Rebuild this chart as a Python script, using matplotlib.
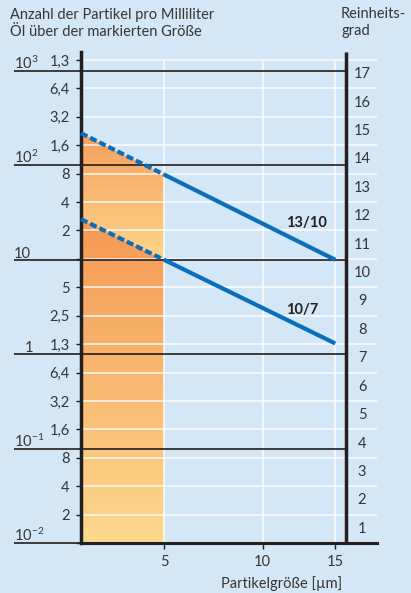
import numpy as np
import matplotlib
matplotlib.use("Agg")
import matplotlib.pyplot as plt
from matplotlib import transforms
from matplotlib.patches import Polygon

# Particle sizes (µm) at which the cleanliness codes are stated
sizes = [5, 15]
# Particles per millilitre larger than the given size
code_13_10 = [80, 10]
code_10_7 = [10, 1.3]
series_labels = ["13/10", "10/7"]

# Cleanliness scale: each code doubles the particle count of the previous one
code_numbers = list(range(1, 18))
boundary_labels = ["", "2", "4", "8", "1,6", "3,2", "6,4", "1,3", "2,5", "5",
                   "", "2", "4", "8", "1,6", "3,2", "6,4", "1,3"]
decades = [1e-2, 1e-1, 1, 10, 1e2, 1e3]
decade_labels = [r"10$^{-2}$", r"10$^{-1}$", "1", "10", r"10$^{2}$", r"10$^{3}$"]
x_ticks = [5, 10, 15]
x_tick_labels = ["5", "10", "15"]

# ---- style -------------------------------------------------------------
BG = "#d3e7f6"
TXT = "#363636"
INK = "#231f20"
BLUE = "#0a6eb8"
FS = 10.5

plt.rcParams["font.family"] = ["Lato", "DejaVu Sans"]
plt.rcParams["mathtext.fontset"] = "custom"
plt.rcParams["mathtext.rm"] = "Lato"
plt.rcParams["mathtext.it"] = "Lato:italic"
plt.rcParams["mathtext.bf"] = "Lato:bold"

W, H = 411, 593
fig = plt.figure(figsize=(W / 100, H / 100), dpi=100, facecolor=BG)

def px_box(l, t, r, b):
    return [l / W, 1 - b / H, (r - l) / W, (b - t) / H]

ax = fig.add_axes(px_box(81, 52, 377, 543))
ax.set_facecolor(BG)

# Size axis is compressed towards large sizes; count axis is log base 2
P = 0.43
ax.set_xscale("function", functions=(lambda x: np.abs(x) ** P,
                                     lambda u: np.abs(u) ** (1 / P)))
ax.set_yscale("log", base=2)
x_min, x_max = 2.23, 18.4
x_frame = 15.85
ax.set_xlim(x_min, x_max)
boundaries = [0.01 * 2 ** k for k in range(18)]
ax.set_ylim(boundaries[0], boundaries[-1] * 2 ** 0.28)
ax.set_autoscale_on(False)


def to_axes(x, y):
    return ax.transLimits.transform(ax.transScale.transform((x, y)))


def extend_left(xs, ys):
    """Continue a straight (in plot space) line to the left edge."""
    u = np.abs(np.array(xs, float)) ** P
    l = np.log2(np.array(ys, float))
    slope = (l[1] - l[0]) / (u[1] - u[0])
    return 2 ** (l[0] + slope * (x_min ** P - u[0]))


top_left = extend_left(sizes, code_13_10)
low_left = extend_left(sizes, code_10_7)


def gradient_fill(poly_pts, v_top, v_bottom, c_top, c_bottom, z):
    yt = to_axes(5, v_top)[1]
    yb = to_axes(5, v_bottom)[1]
    c0 = np.array(matplotlib.colors.to_rgb(c_top))
    c1 = np.array(matplotlib.colors.to_rgb(c_bottom))
    t = np.linspace(0, 1, 256)[:, None]
    img = (c0 * (1 - t) + c1 * t)[:, None, :]
    im = ax.imshow(img, extent=[0, 1, yb, yt], transform=ax.transAxes,
                   aspect="auto", origin="upper", zorder=z,
                   interpolation="bilinear")
    poly = Polygon(poly_pts, closed=True, transform=ax.transData)
    im.set_clip_path(poly)


# Shaded area below each code up to 5 µm
gradient_fill([(x_min, top_left), (sizes[0], code_13_10[0]),
               (sizes[0], code_10_7[0]), (x_min, low_left)],
              top_left, code_10_7[0], "#f69f5e", "#fed68b", 1)
gradient_fill([(x_min, low_left), (sizes[0], code_10_7[0]),
               (sizes[0], boundaries[0]), (x_min, boundaries[0])],
              low_left, boundaries[0], "#f59854", "#fed98e", 1)

# White grid
for b in boundaries[1:]:
    ax.axhline(b, color="white", lw=1.1, alpha=0.9, zorder=2)
ax.vlines(x_ticks, boundaries[0], boundaries[-1], color="white", lw=1.1,
          alpha=0.9, zorder=2)

# Decade lines reaching out under the labels
blend = transforms.blended_transform_factory(ax.transAxes, ax.transData)
x_frame_ax = to_axes(x_frame, 1)[0]
lift = transforms.ScaledTranslation(0, 1.5 / 72, fig.dpi_scale_trans)
for v, lab in zip(decades, decade_labels):
    ax.plot([(14 - 81) / 296, x_frame_ax], [v, v], color=INK, lw=1.2,
            transform=blend, clip_on=False, zorder=3, solid_capstyle="butt")
    if lab == "1":
        ax.text((33 - 81) / 296, v, lab, ha="right", va="baseline",
                fontsize=FS, color=TXT, transform=blend + lift)
    else:
        ax.text((14 - 81) / 296, v, lab, ha="left", va="baseline",
                fontsize=FS, color=TXT, transform=blend + lift)

# Right-hand frame line
ax.axvline(x_frame, color=INK, lw=2.5, zorder=5, solid_capstyle="butt")

# Code lines: measured part solid, extrapolation dashed
for vals, left, lab in zip([code_13_10, code_10_7], [top_left, low_left],
                           series_labels):
    ax.plot(sizes, vals, color=BLUE, lw=3.0, solid_capstyle="butt", zorder=6)
    ax.plot([x_min, sizes[0]], [left, vals[0]], color=BLUE, lw=3.0,
            dashes=(1.7, 0.75), dash_capstyle="butt", zorder=6, clip_on=False)

ax.text(11.5, 24.5, series_labels[0], fontsize=FS, fontweight="bold",
        color=INK, ha="left", va="center", zorder=7)
ax.text(11.5, 2.94, series_labels[1], fontsize=FS, fontweight="bold",
        color=INK, ha="left", va="center", zorder=7)

# Code numbers on the right
for n in code_numbers:
    ax.text((362 - 81) / 296, 0.01 * 2 ** (n - 0.5), str(n), transform=blend,
            ha="center", va="center", fontsize=FS, color=TXT)

# Axes, ticks
for s in ("top", "right"):
    ax.spines[s].set_visible(False)
ax.spines["left"].set_linewidth(2.5)
ax.spines["left"].set_color(INK)
ax.spines["bottom"].set_linewidth(2.2)
ax.spines["bottom"].set_color(INK)
ax.spines["left"].set_zorder(5)
ax.spines["bottom"].set_zorder(5)

ax.set_yticks(boundaries, boundary_labels)
ax.yaxis.set_minor_locator(matplotlib.ticker.NullLocator())
ax.set_xticks(x_ticks, x_tick_labels)
ax.xaxis.set_minor_locator(matplotlib.ticker.NullLocator())
ax.tick_params(axis="y", length=3.6, width=1.0, color=INK, pad=4.5,
               labelsize=FS, labelcolor=TXT)
ax.tick_params(axis="x", length=4.3, width=1.0, color=INK, pad=4.0,
               labelsize=FS, labelcolor=TXT)

# Titles
fig.text(10 / W, 1 - 18.5 / H, "Anzahl der Partikel pro Milliliter",
         fontsize=FS, color=TXT, va="baseline", ha="left")
fig.text(10 / W, 1 - 36 / H, "Öl über der markierten Größe",
         fontsize=FS, color=TXT, va="baseline", ha="left")
fig.text(341 / W, 1 - 18.5 / H, "Reinheits-", fontsize=FS, color=TXT,
         va="baseline", ha="left")
fig.text(341 / W, 1 - 35.5 / H, "grad", fontsize=FS, color=TXT,
         va="baseline", ha="left")
fig.text(342 / W, 1 - 588 / H, "Partikelgröße [µm]", fontsize=FS,
         color=TXT, va="baseline", ha="right")

fig.savefig("out.png", dpi=100, facecolor=BG)
